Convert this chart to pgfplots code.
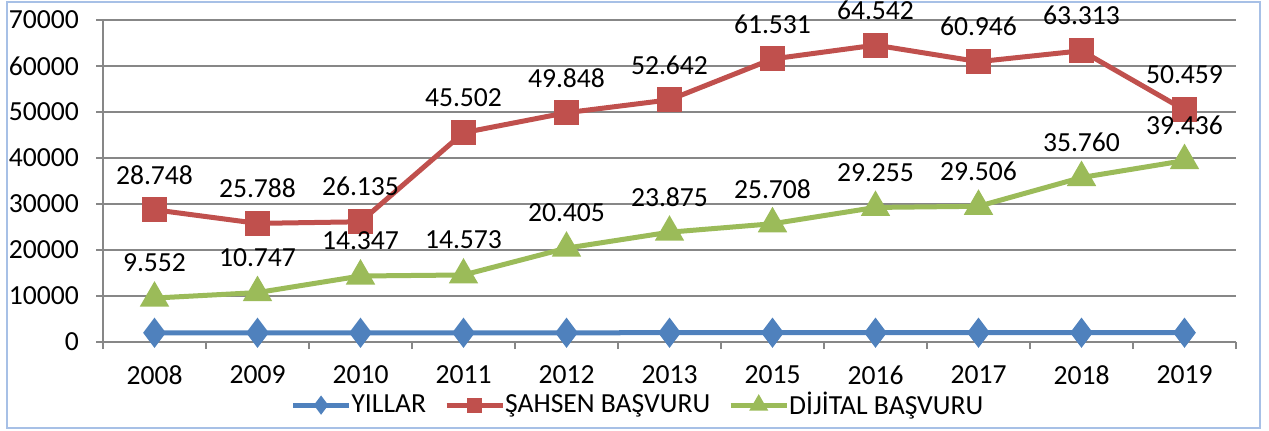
\documentclass[border=0pt]{standalone}
\usepackage{fontspec}
\setmainfont{Carlito}
\usepackage{pgfplots}
\pgfplotsset{compat=1.18}
\definecolor{cBlue}{HTML}{4F81BD}
\definecolor{cRed}{HTML}{C0504D}
\definecolor{cGreen}{HTML}{9BBB59}
\definecolor{cGrid}{HTML}{878787}
\definecolor{cFrame}{HTML}{A7C0E6}

\begin{document}
\begin{tikzpicture}
\useasboundingbox (-51.5pt,-44pt) rectangle (583pt,171pt);
\draw[cFrame, line width=0.8pt] (-48pt,-43pt) rectangle (578.5pt,170pt);
\begin{axis}[scale only axis, width=566.5pt, height=161pt,
  font=\fontsize{13.8}{15}\selectfont,
  scaled y ticks=false,
  /pgf/number format/assume math mode=true,
  /pgf/number format/1000 sep={},
  xmin=-0.5, xmax=10.5, ymin=0, ymax=70000,
  ytick={0,10000,...,70000},
  xtick={0,...,10},
  xticklabels={2008,2009,2010,2011,2012,2013,2015,2016,2017,2018,2019},
  major x tick style={draw=none},
  extra x ticks={-0.5,0.5,...,10.5}, extra x tick labels={},
  extra x tick style={major x tick style={draw=cGrid, line width=0.8pt}, xmajorgrids=false},
  axis x line*=bottom, axis y line*=left,
  axis line style={-, draw=cGrid, line width=0.8pt},
  tick align=outside, major tick length=3.5pt,
  ytick style={draw=cGrid, line width=0.8pt},
  ymajorgrids, grid style={cGrid, line width=0.8pt},
  yticklabel style={xshift=-5pt},
  xticklabel style={yshift=-5pt},
  every axis plot/.append style={line width=2.5pt},
  legend style={at={(0.473,-0.196)}, anchor=center, draw=none, fill=none,
    legend columns=3, font=\fontsize{13.8}{15}\selectfont,
    /tikz/every even column/.append style={column sep=7pt},
    /tikz/every odd column/.append style={column sep=-2pt}},
  legend image code/.code={\draw[#1, mark options={scale=0.5}, mark repeat=2, mark phase=2]
    plot coordinates {(0pt,0pt) (14pt,0pt) (28pt,0pt)};},
  nodes near coords, point meta=explicit symbolic,
  every node near coord/.append style={anchor=center, yshift=17.5pt, black,
    font=\fontsize{13.8}{15}\selectfont},
  clip=false]
\addplot[cBlue, mark=diamond*, mark size=5.5pt, mark options={solid}, nodes near coords={}]
  coordinates {(0,2008)[] (1,2009)[] (2,2010)[] (3,2011)[] (4,2012)[] (5,2013)[]
  (6,2015)[] (7,2016)[] (8,2017)[] (9,2018)[] (10,2019)[]};
\addlegendentry{YILLAR}
\addplot[cRed, mark=square*, mark size=5pt]
  coordinates {(0,28748)[28.748] (1,25788)[25.788] (2,26135)[26.135] (3,45502)[45.502]
  (4,49848)[49.848] (5,52642)[52.642] (6,61531)[61.531] (7,64542)[64.542]
  (8,60946)[60.946] (9,63313)[63.313] (10,50459)[50.459]};
\addlegendentry{ŞAHSEN BAŞVURU}
\addplot[cGreen, mark=triangle*, mark size=6pt]
  coordinates {(0,9552)[9.552] (1,10747)[10.747] (2,14347)[14.347] (3,14573)[14.573]
  (4,20405)[20.405] (5,23875)[23.875] (6,25708)[25.708] (7,29255)[29.255]
  (8,29506)[29.506] (9,35760)[35.760] (10,39436)[39.436]};
\addlegendentry{DİJİTAL BAŞVURU}
\end{axis}
\end{tikzpicture}
\end{document}
